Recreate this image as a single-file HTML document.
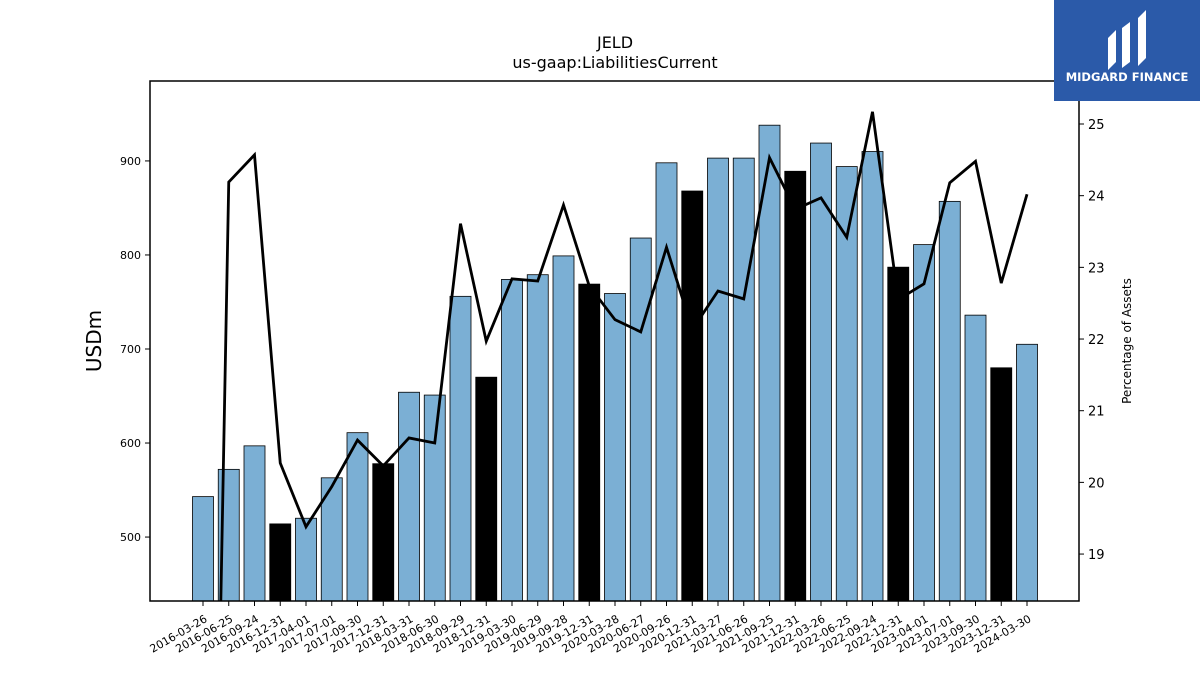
<!DOCTYPE html>
<html><head><meta charset="utf-8"><style>
html,body{margin:0;padding:0;background:#fff;width:1200px;height:675px;overflow:hidden;font-family:"Liberation Sans","DejaVu Sans",sans-serif}
svg{display:block}
svg text{font-family:"DejaVu Sans","Liberation Sans",sans-serif}
</style></head><body>
<svg id="c" width="1200" height="675">
<text x="615" y="48" text-anchor="middle" font-size="16">JELD</text>
<text x="615" y="68" text-anchor="middle" font-size="16">us-gaap:LiabilitiesCurrent</text>
<text transform="translate(101,341) rotate(-90)" text-anchor="middle" font-size="20">USDm</text>
<text transform="translate(1131,341) rotate(-90)" text-anchor="middle" font-size="12">Percentage of Assets</text>
<g id="bars"></g><g id="line"></g><g id="axes"></g>
<rect x="150" y="81" width="929" height="520" fill="none" stroke="#000" stroke-width="1.5"/>
<g>
<rect x="1054" y="0" width="146" height="101" fill="#2b5aa9"/>
<path d="M1108 70 L1108 38 L1116 30 L1116 62 Z M1122 68 L1122 28 L1130 22 L1130 62 Z M1138 66 L1138 18 L1146 10 L1146 58 Z" fill="#fff"/>
<text x="1127" y="81" text-anchor="middle" font-size="11.5" font-weight="bold" fill="#fff">MIDGARD FINANCE</text>
</g>
</svg>
<script>
const dates=["2016-03-26","2016-06-25","2016-09-24","2016-12-31","2017-04-01","2017-07-01","2017-09-30","2017-12-31","2018-03-31","2018-06-30","2018-09-29","2018-12-31","2019-03-30","2019-06-29","2019-09-28","2019-12-31","2020-03-28","2020-06-27","2020-09-26","2020-12-31","2021-03-27","2021-06-26","2021-09-25","2021-12-31","2022-03-26","2022-06-25","2022-09-24","2022-12-31","2023-04-01","2023-07-01","2023-09-30","2023-12-31","2024-03-30"];
const liabilities=[543,572,597,514,520,563,611,578,654,651,756,670,774,779,799,769,759,818,898,868,903,903,938,889,919,894,910,787,811,857,736,680,705];
const pctAssets=[5.2,24.19,24.57,20.27,19.38,19.94,20.59,20.23,20.62,20.55,23.61,21.97,22.84,22.81,23.87,22.74,22.27,22.10,23.28,22.13,22.67,22.56,24.53,23.81,23.97,23.42,25.17,22.55,22.77,24.18,24.48,22.78,24.02];
const leftTicks=[500,600,700,800,900];
const rightTicks=[19,20,21,22,23,24,25];
const NS="http://www.w3.org/2000/svg";
const X0=150,X1=1079,Y0=81,Y1=601;
const xS=i=>203+i*(1027-203)/(dates.length-1);
const yL=v=>Y1-(v-432)/(985-432)*(Y1-Y0);
const yR=v=>Y1-(v-18.345)/(25.6-18.345)*(Y1-Y0);
function mk(t,a,p){const e=document.createElementNS(NS,t);for(const k in a)e.setAttribute(k,a[k]);p.appendChild(e);return e;}
const bars=document.getElementById('bars'),line=document.getElementById('line'),axes=document.getElementById('axes');
liabilities.forEach((v,i)=>{
  const fy=dates[i].endsWith('12-31');
  const r=mk('rect',{x:xS(i)-10.5,y:yL(v),width:21,height:Y1-yL(v),fill:fy?'#000':'#7bafd4',stroke:'#000','stroke-width':0.8},bars);
  
  
});
mk('clipPath',{id:'cp'},line).appendChild(document.createElementNS(NS,'rect'));
const cr=line.querySelector('clipPath rect');cr.setAttribute('x',X0);cr.setAttribute('y',Y0);cr.setAttribute('width',X1-X0);cr.setAttribute('height',Y1-Y0);
const pl=mk('polyline',{points:pctAssets.map((v,i)=>xS(i)+','+yR(v)).join(' '),fill:'none',stroke:'#000','stroke-width':2.8,'stroke-linejoin':'miter','clip-path':'url(#cp)'},line);


leftTicks.forEach(v=>{const y=yL(v);
  mk('line',{x1:X0-5,x2:X0,y1:y,y2:y,stroke:'#000'},axes);
  const t=mk('text',{x:X0-9,y:y+4,'text-anchor':'end','font-size':11},axes);t.textContent=v;
  
  });
rightTicks.forEach(v=>{const y=yR(v);
  mk('line',{x1:X1,x2:X1+5,y1:y,y2:y,stroke:'#000'},axes);
  const t=mk('text',{x:X1+9,y:y+5,'font-size':13},axes);t.textContent=v;
  
  });
dates.forEach((d,i)=>{const x=xS(i);
  mk('line',{x1:x,x2:x,y1:Y1,y2:Y1+5,stroke:'#000'},axes);
  const t=mk('text',{transform:`translate(${x+5},${Y1+20}) rotate(-30)`,'text-anchor':'end','font-size':11},axes);t.textContent=d;
  
  });
</script>
</body></html>
